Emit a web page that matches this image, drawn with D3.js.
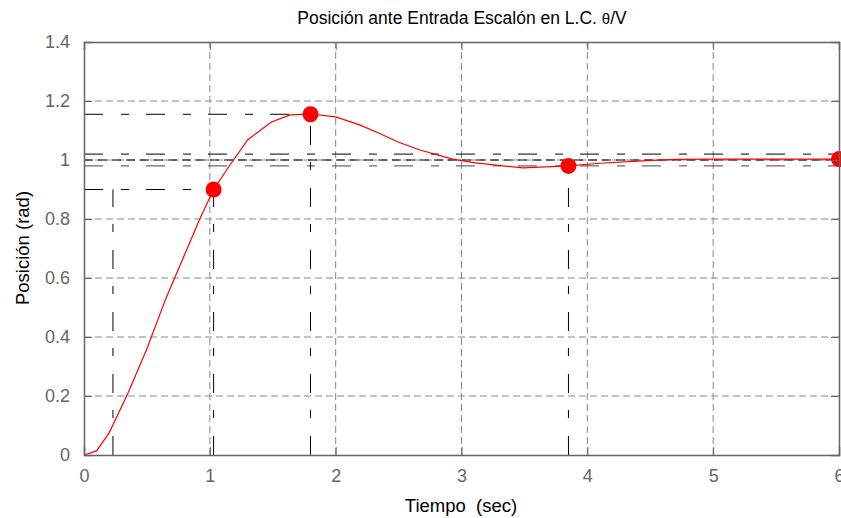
<!DOCTYPE html>
<html>
<head>
<meta charset="utf-8">
<script src="https://cdn.jsdelivr.net/npm/d3@7"></script>
<style>
  body { margin: 0; background: #fff; }
  svg { font-family: "Liberation Sans", Arial, sans-serif; }
</style>
</head>
<body>
<div id="chart"></div>
<script>
// respuesta al escalon
var tiempo   = [0, 0.1, 0.2, 0.35, 0.5, 0.65, 0.8, 0.92, 1.03, 1.16, 1.3, 1.49, 1.64, 1.8, 2.0, 2.19, 2.35, 2.5, 2.67, 2.93, 3.11, 3.49, 3.85, 4.1, 4.47, 4.71, 5.0, 6.0]
var posicion = [0, 0.014, 0.075, 0.21, 0.36, 0.53, 0.68, 0.8, 0.9, 0.983, 1.068, 1.129, 1.153, 1.156, 1.146, 1.119, 1.09, 1.06, 1.034, 1.003, 0.99, 0.973, 0.98, 0.989, 0.998, 1.002, 1.003, 1.003]

// puntos marcados (tr, tp, ts, final)
var puntosT = [1.03, 1.8, 3.85, 6]
var puntosY = [0.9, 1.155, 0.98, 1.003]

// lineas de referencia
var refH = [[0.9, 0, 1.03], [1.155, 0, 1.8], [1.02, 0, 6], [0.98, 0, 6]]
var refV = [[0.23, 0, 0.9], [1.03, 0, 0.9], [1.8, 0, 1.155], [3.85, 0, 0.98]]
var refUno = 1

var xTicks = [0, 1, 2, 3, 4, 5, 6]
var yTicks = [0, 0.2, 0.4, 0.6, 0.8, 1, 1.2, 1.4]

const width = 841, height = 518
const m = {left: 84, right: 2, top: 42, bottom: 63}

var svg = d3.select('#chart').append('svg')
    .attr('width', width)
    .attr('height', height)

var x = d3.scaleLinear().domain([0, 6]).range([m.left, width - m.right])
var y = d3.scaleLinear().domain([0, 1.4]).range([height - m.bottom, m.top])

// grid
svg.append('g').selectAll('line').data(xTicks.slice(1, -1)).join('line')
  .attr('x1', d => x(d)).attr('x2', d => x(d))
  .attr('y1', y(0)).attr('y2', y(1.4))
  .attr('stroke', '#888').attr('stroke-dasharray', '7,4')
svg.append('g').selectAll('line').data(yTicks.slice(1, -1)).join('line')
  .attr('x1', x(0)).attr('x2', x(6))
  .attr('y1', d => y(d)).attr('y2', d => y(d))
  .attr('stroke', '#888').attr('stroke-dasharray', '7,4')

// referencias
svg.append('g').selectAll('line').data(refH).join('line')
  .attr('x1', d => x(d[1])).attr('x2', d => x(d[2]))
  .attr('y1', d => y(d[0])).attr('y2', d => y(d[0]))
  .attr('stroke', (d, i) => i == 3 ? '#444' : '#000')
  .attr('stroke-dasharray', '19,18,8,17')
svg.append('g').selectAll('line').data(refV).join('line')
  .attr('x1', d => x(d[0])).attr('x2', d => x(d[0]))
  .attr('y1', d => y(d[1])).attr('y2', d => y(d[2]))
  .attr('stroke', '#000')
  .attr('stroke-dasharray', '19,18,8,17')
svg.append('line')
  .attr('x1', x(0)).attr('x2', x(6))
  .attr('y1', y(refUno)).attr('y2', y(refUno))
  .attr('stroke', '#000').attr('stroke-dasharray', '9,5')

// curva
var linea = d3.line().x((d, i) => x(tiempo[i])).y(d => y(d))
svg.append('path')
  .attr('d', linea(posicion))
  .attr('fill', 'none')
  .attr('stroke', 'red')
  .attr('stroke-width', 1.2)

svg.append('g').selectAll('circle').data(puntosT).join('circle')
  .attr('cx', d => x(d))
  .attr('cy', (d, i) => y(puntosY[i]))
  .attr('r', 8)
  .attr('fill', 'red')

// ejes (caja con ticks hacia adentro)
var gx = svg.append('g').attr('transform', `translate(0,${y(0)})`)
  .call(d3.axisBottom(x).tickValues(xTicks).tickSize(-8).tickPadding(14).tickFormat(d3.format('d')))
var gxt = svg.append('g').attr('transform', `translate(0,${y(1.4)})`)
  .call(d3.axisTop(x).tickValues(xTicks).tickSize(-8).tickFormat(''))
var gy = svg.append('g').attr('transform', `translate(${x(0)},0)`)
  .call(d3.axisLeft(y).tickValues(yTicks).tickSize(-8).tickPadding(14).tickFormat(d => d3.format('')(+d.toFixed(1))))
var gyr = svg.append('g').attr('transform', `translate(${x(6)},0)`)
  .call(d3.axisRight(y).tickValues(yTicks).tickSize(-8).tickFormat(''))

;[gx, gxt, gy, gyr].forEach(g => {
  g.select('.domain').attr('stroke', '#666').attr('stroke-width', 1.5)
  g.selectAll('.tick line').attr('stroke', '#666')
  g.selectAll('.tick text').attr('fill', '#666').style('font-size', '18px')
    .style('font-family', '"Liberation Sans", Arial, sans-serif')
})

// textos
var titulo = svg.append('text')
  .attr('x', 462).attr('y', 24)
  .attr('text-anchor', 'middle')
  .style('font-size', '17.5px')
titulo.append('tspan').text('Posición ante Entrada Escalón en L.C. ')
titulo.append('tspan').style('font-size', '15px').text('θ')
titulo.append('tspan').text('/V')

svg.append('text')
  .attr('x', 461).attr('y', 512)
  .attr('text-anchor', 'middle')
  .style('font-size', '18.5px')
  .style('white-space', 'pre')
  .text('Tiempo  (sec)')

svg.append('text')
  .attr('transform', 'translate(29,248) rotate(-90)')
  .attr('text-anchor', 'middle')
  .style('font-size', '18.5px')
  .text('Posición (rad)')
</script>
</body>
</html>
